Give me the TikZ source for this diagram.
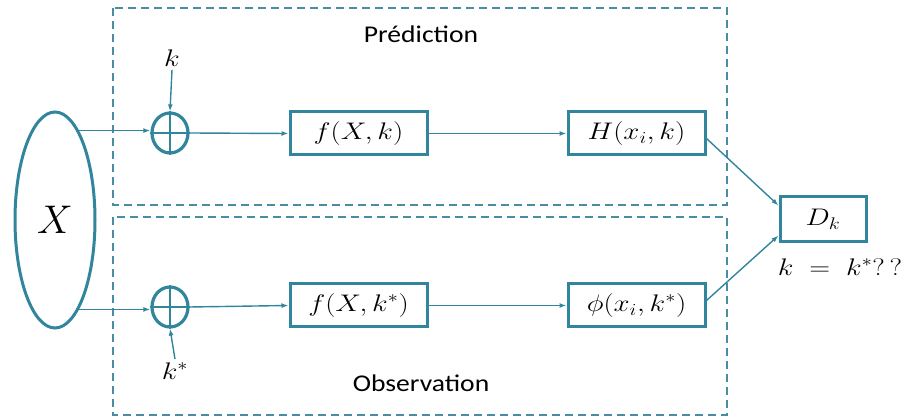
\RequirePackage{fix-cm}
\documentclass[tikz,border=0pt]{standalone}
\usepackage{graphicx}
\usepackage{fontspec}
\newfontfamily\labfont{Carlito}
\usetikzlibrary{arrows.meta,shapes.geometric}
\definecolor{teal1}{RGB}{49,133,156}
\definecolor{dash1}{RGB}{75,140,165}
\newcommand\mwide[1]{\scalebox{1.2}[1]{#1}}
\newcommand\twide[1]{\scalebox{1.15}[1]{#1}}
\tikzset{
  box/.style={draw=teal1,line width=3pt,minimum width=137pt,minimum height=43pt,inner sep=0pt,font=\fontsize{24}{28}\selectfont},
  arr/.style={draw=teal1,line width=1.4pt,-{Latex[length=7pt,width=5pt]}},
  ln/.style={draw=teal1,line width=1.4pt},
  grp/.style={draw=dash1,line width=1.6pt,dash pattern=on 8pt off 5pt},
  plusc/.style={ellipse,draw=teal1,line width=3.2pt,minimum width=36pt,minimum height=40pt,inner sep=0pt},
  lab/.style={font=\labfont\fontsize{24}{28}\selectfont},
  mlab/.style={font=\fontsize{24}{28}\selectfont}
}
\begin{document}
\begin{tikzpicture}[x=1pt,y=-1pt]
\useasboundingbox (0,0) rectangle (902,419);
% groups
\draw[grp] (113,8) rectangle (727,205);
\draw[grp] (113,217) rectangle (727,415);
\node[lab] (pred) at (421,34) {\twide{Prédiction}};
\node[lab] (obs) at (421,383) {\twide{Observation}};
% X ellipse
\node[ellipse,draw=teal1,line width=3pt,minimum width=80pt,minimum height=216pt,inner sep=0pt,font=\fontsize{40}{46}\selectfont] (X) at (55,220) {$X$};
% plus circles
\node[plusc] (p1) at (170,133) {};
\node[plusc] (p2) at (170,307) {};
\draw[ln] (p1.north) -- (p1.south);
\draw[ln] (p1.west) -- (p1.east);
\draw[ln] (p2.north) -- (p2.south);
\draw[ln] (p2.west) -- (p2.east);
% boxes
\node[box] (f1) at (358.5,133.5) {\mwide{$f(X,k)$}};
\node[box] (H) at (636.5,133.5) {\mwide{$H(x_i,k)$}};
\node[box] (f2) at (358.5,305.5) {\mwide{$f(X,k^*)$}};
\node[box] (phi) at (636.5,305.5) {\mwide{$\phi(x_i,k^*)$}};
\node[box,minimum width=86pt,minimum height=45pt] (D) at (823,219.5) {\mwide{$D_k$}};
% labels
\node[mlab] (k) at (172,58) {\mwide{$k$}};
\node[mlab] (ks) at (175,371) {\mwide{$k^*$}};
\node[mlab] (eq) at (840,267) {\mwide{$k\;=\;k^*$?\,?}};
% connectors
\draw[arr] (X.75) -- (X.75 -| p1.west);
\draw[arr] (X.-75) -- (X.-75 -| p2.west);
\draw[arr] (k.south) -- (p1.north);
\draw[arr] (ks.north) -- (p2.south);
\draw[arr] (p1.east) -- (f1.west);
\draw[arr] (p2.east) -- (f2.west);
\draw[arr] (f1.east) -- (H.west);
\draw[arr] (f2.east) -- (phi.west);
\draw[arr] ([yshift=-5pt]H.east) -- ([yshift=14pt]D.west);
\draw[arr] ([yshift=5pt]phi.east) -- ([yshift=-16pt]D.west);
\end{tikzpicture}
\end{document}
